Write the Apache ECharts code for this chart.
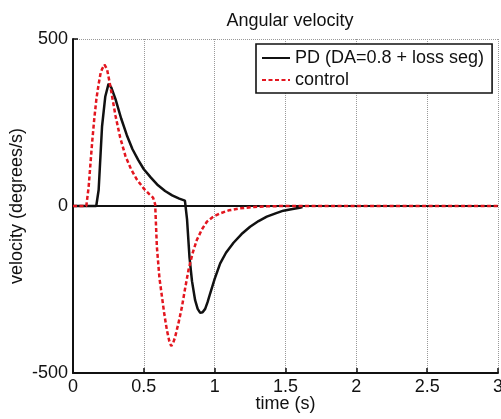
<!DOCTYPE html>
<html>
<head>
<meta charset="utf-8">
<script src="https://cdn.jsdelivr.net/npm/echarts@6/dist/echarts.min.js"></script>
<style>html,body{margin:0;padding:0;background:#fff}#c{width:501px;height:419px}</style>
</head>
<body>
<div id="c"></div>
<script>
const pdTime = [0, 0.164, 0.181, 0.205, 0.228, 0.251, 0.27, 0.30, 0.34, 0.38, 0.42, 0.46, 0.50, 0.55, 0.60, 0.65, 0.70, 0.75, 0.79, 0.798, 0.805, 0.822, 0.84, 0.862, 0.88, 0.898, 0.915, 0.933, 0.95, 0.968, 1.0, 1.039, 1.08, 1.133, 1.19, 1.25, 1.31, 1.368, 1.43, 1.485, 1.55, 1.60, 1.62];
const pdVel  = [0, 0, 48, 238, 328, 366, 355, 320, 262, 212, 170, 138, 110, 85, 62, 45, 32, 22, 16, 14, -40, -152, -225, -282, -308, -320, -318, -308, -288, -262, -218, -172, -140, -110, -84, -62, -45, -32, -22, -14, -9, -5, -3];
const ctrlTime = [0, 0.094, 0.11, 0.122, 0.135, 0.15, 0.165, 0.181, 0.195, 0.205, 0.222, 0.24, 0.263, 0.30, 0.333, 0.37, 0.41, 0.45, 0.50, 0.54, 0.565, 0.58, 0.592, 0.61, 0.628, 0.645, 0.663, 0.68, 0.693, 0.707, 0.721, 0.745, 0.769, 0.79, 0.815, 0.845, 0.874, 0.91, 0.945, 0.99, 1.039, 1.1, 1.18, 1.28, 1.37, 1.5, 3];
const ctrlVel  = [0, 0, 55, 120, 190, 260, 320, 365, 398, 410, 423, 410, 360, 270, 205, 150, 110, 80, 52, 35, 25, 5, -122, -215, -272, -325, -372, -405, -419, -410, -392, -350, -302, -250, -192, -140, -102, -70, -47, -32, -22, -13, -7, -3, -1, 0, 0];
const zeroTime = [0, 3];
const zeroVel = [0, 0];
const xTicks = [0, 0.5, 1, 1.5, 2, 2.5, 3];
const yTicks = [-500, 0, 500];
const titleText = 'Angular velocity';
const seriesNames = ['PD (DA=0.8 + loss seg)', 'control'];

const zip = (a, b) => a.map((v, i) => [v, b[i]]);
const FONT = 'Liberation Sans, Arial, sans-serif';
const chart = echarts.init(document.getElementById('c'), null, {renderer: 'canvas'});
chart.setOption({
  animation: false,
  backgroundColor: '#fff',
  title: {
    text: titleText, left: 285, top: 7, textAlign: 'center',
    textStyle: {fontFamily: FONT, fontSize: 18, fontWeight: 'normal', color: '#111'}
  },
  grid: {left: 73, right: 3, top: 39, bottom: 46, containLabel: false, outerBoundsMode: 'none'},
  legend: {
    data: seriesNames, orient: 'vertical', left: 256, top: 44,
    padding: [5, 8, 4, 5], itemGap: 4, itemWidth: 28, itemHeight: 14,
    backgroundColor: '#fff', borderColor: '#111', borderWidth: 1.6, borderRadius: 0,
    itemStyle: {opacity: 0},
    textStyle: {fontFamily: FONT, fontSize: 18, color: '#111'}
  },
  xAxis: {
    type: 'value', min: 0, max: 3, interval: 0.5,
    name: 'time (s)', nameLocation: 'middle', nameGap: 22, nameMoveOverlap: false,
    nameTextStyle: {fontFamily: FONT, fontSize: 18, color: '#111'},
    axisLine: {onZero: false, lineStyle: {color: '#111', width: 2}},
    axisTick: {inside: true, length: 5, lineStyle: {color: '#111', width: 1.5}},
    axisLabel: {fontFamily: FONT, fontSize: 18, color: '#111', margin: 5,
      formatter: v => xTicks.includes(v) ? String(v) : ''},
    splitLine: {show: true, lineStyle: {color: '#999', type: [1, 1], width: 1}}
  },
  yAxis: {
    type: 'value', min: -500, max: 500, interval: 500,
    name: 'velocity (degrees/s)', nameLocation: 'middle', nameGap: 47, nameMoveOverlap: false,
    nameTextStyle: {fontFamily: FONT, fontSize: 18, color: '#111'},
    axisLine: {show: true, onZero: false, lineStyle: {color: '#111', width: 2}},
    axisTick: {show: true, inside: true, length: 5, lineStyle: {color: '#111', width: 1.5}},
    axisLabel: {fontFamily: FONT, fontSize: 18, color: '#111', margin: 5,
      formatter: v => yTicks.includes(v) ? String(v) : ''},
    splitLine: {show: true, lineStyle: {color: '#999', type: [1, 1], width: 1}}
  },
  series: [
    {name: 'zero', type: 'line', data: zip(zeroTime, zeroVel), symbol: 'none', z: 1,
     lineStyle: {color: '#111', width: 2}, silent: true},
    {name: seriesNames[0], type: 'line', data: zip(pdTime, pdVel), symbol: 'none', z: 2,
     lineStyle: {color: '#111', width: 2.5}, itemStyle: {color: '#111'}},
    {name: seriesNames[1], type: 'line', data: zip(ctrlTime, ctrlVel), symbol: 'none', z: 3,
     lineStyle: {color: '#e3161f', width: 2.5, type: [4, 2.5]}, itemStyle: {color: '#e3161f'}}
  ]
});
</script>
</body>
</html>
